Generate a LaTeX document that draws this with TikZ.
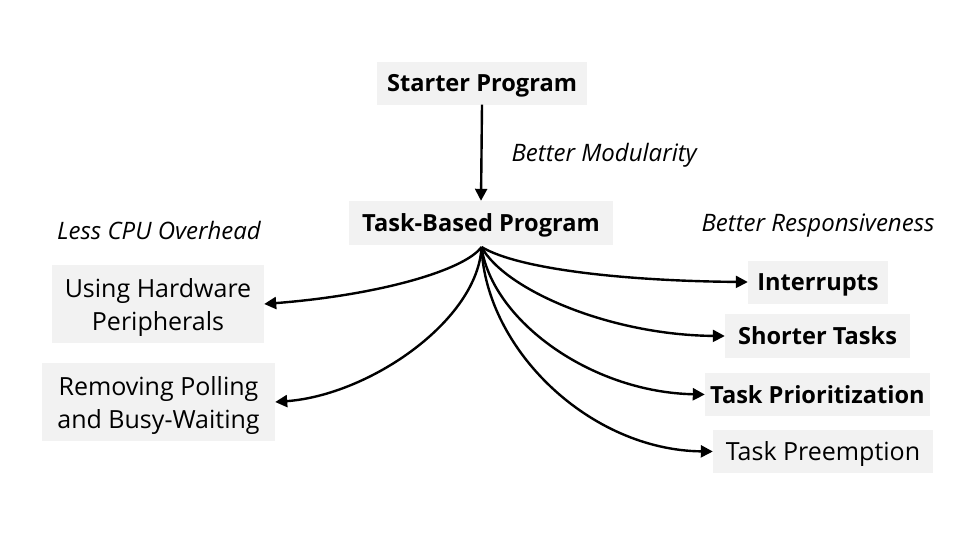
\documentclass[tikz,border=0pt]{standalone}
\usepackage{fontspec}
\setmainfont{Open Sans}
\usetikzlibrary{arrows.meta}
\definecolor{boxgray}{HTML}{F2F2F2}
\newcommand{\twolines}[2]{\begin{tabular}[t]{@{}c@{}}#1\\#2\end{tabular}}
\begin{document}
\begin{tikzpicture}[x=1pt,y=1pt,
  box/.style={fill=boxgray,inner sep=0pt,text height=21pt,text depth=4pt,font=\fontsize{25}{33}\selectfont},
  twoline/.style={box,text height=28.9pt,text depth=42.9pt},
  bbox/.style={box,font=\fontsize{23.6}{33}\selectfont\bfseries},
  lab/.style={font=\fontsize{24}{28}\selectfont\itshape},
  arr/.style={line width=2.4pt,-{Triangle[length=12pt,width=12pt]}}]
\useasboundingbox (0,0) rectangle (957,-549);
\node[bbox,minimum width=210pt,minimum height=43pt] (start) at (482,-83) {Starter Program};
\node[bbox,minimum width=264pt,minimum height=44pt] (task) at (481,-223) {Task-Based Program};
\node[twoline,minimum width=212pt,minimum height=78pt] (hw) at (158,-304) {\twolines{Using Hardware}{Peripherals}};
\node[twoline,minimum width=233pt,minimum height=78pt] (poll) at (158.5,-402) {\twolines{Removing Polling}{and Busy-Waiting}};
\node[bbox,minimum width=140pt,minimum height=43pt] (intr) at (818,-282) {Interrupts};
\node[bbox,minimum width=185pt,minimum height=44pt] (short) at (817.5,-336) {Shorter Tasks};
\node[bbox,minimum width=225pt,minimum height=43pt] (prio) at (817.5,-394.5) {Task Prioritization};
\node[box,minimum width=220pt,minimum height=43pt] (pre) at (823,-451.5) {Task Preemption};
\node[lab,anchor=west] (mod) at (508,-155) {Better Modularity};
\node[lab] (cpu) at (159,-230) {Less CPU Overhead};
\node[lab] (resp) at (818,-226) {Better Responsiveness};
\coordinate (o) at (481.5,-247);
\draw[arr] (start.south) -- (task.north);
\draw[arr] (o) .. controls (465,-270) and (380,-295) .. (hw.east);
\draw[arr] (o) .. controls (478,-320) and (370,-395) .. (poll.east);
\draw[arr] (o) .. controls (520,-270) and (630,-281) .. (intr.west);
\draw[arr] (o) .. controls (505,-290) and (610,-335) .. (short.west);
\draw[arr] (o) .. controls (492,-320) and (590,-392) .. (prio.west);
\draw[arr] (o) .. controls (486,-350) and (590,-450) .. (pre.west);
\end{tikzpicture}
\end{document}
